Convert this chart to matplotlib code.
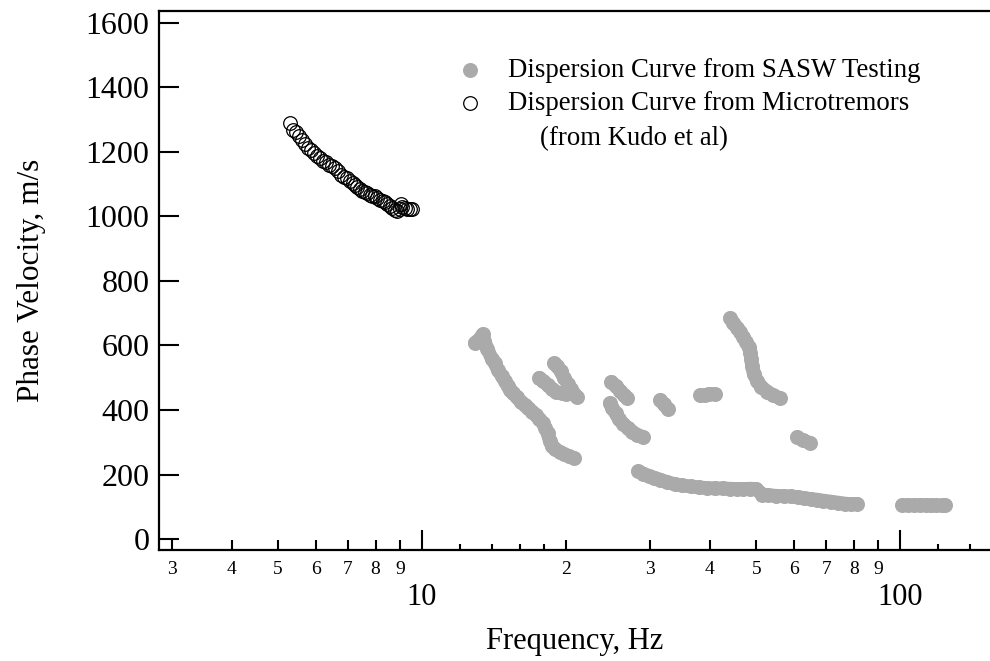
import matplotlib
matplotlib.use("Agg")
import matplotlib.pyplot as plt
from matplotlib.ticker import FixedLocator, FixedFormatter, NullFormatter

plt.rcParams['font.family'] = ['Liberation Serif', 'DejaVu Serif']

# SASW dispersion branches: (frequency Hz, phase velocity m/s)
branch_a_f = [12.9, 13.2, 13.4, 13.5, 13.7, 14.0, 14.2, 14.4, 14.7, 14.9, 15.1, 15.3, 15.5,
              15.8, 16.1, 16.4, 16.7, 17.0, 17.3, 17.6, 17.9, 18.1, 18.3, 18.5, 18.7,
              19.0, 19.4, 19.8, 20.3, 20.8]
branch_a_v = [608, 620, 635, 615, 590, 558, 545, 525, 505, 490, 475, 462, 452,
              440, 425, 415, 405, 395, 385, 372, 360, 345, 328, 305, 288,
              278, 270, 263, 256, 250]
branch_b1_f = [17.6, 17.9, 18.3, 18.7, 19.1, 19.6, 20.0]
branch_b1_v = [500, 490, 478, 465, 455, 452, 450]
branch_b2_f = [18.9, 19.2, 19.5, 19.8, 20.2, 20.5, 20.8, 21.1]
branch_b2_v = [545, 535, 520, 500, 480, 465, 450, 440]
branch_c1_f = [24.9, 25.4, 25.9, 26.4, 26.8]
branch_c1_v = [487, 475, 460, 447, 437]
branch_c2_f = [24.7, 25.0, 25.4, 25.8, 26.3, 26.9, 27.5, 28.2, 29.0]
branch_c2_v = [421, 405, 390, 372, 358, 345, 333, 323, 316]
branch_d_f = [31.5, 32.0, 32.7]
branch_d_v = [431, 418, 402]
branch_e_f = [38.2, 39.0, 39.8, 41.0]
branch_e_v = [446, 445, 450, 449]
branch_f_f = [44.1, 44.8, 45.6, 46.3, 47.0, 47.6, 48.2, 48.6, 48.8, 49.0, 49.4, 50.2,
              51.2, 52.7, 54.3, 56.1]
branch_f_v = [685, 670, 655, 642, 625, 610, 595, 578, 558, 535, 512, 490,
              472, 457, 445, 437]
branch_g_f = [60.9, 62.5, 64.8]
branch_g_v = [316, 306, 298]
branch_h_f = [28.3, 29.0, 29.8, 30.6, 31.5, 32.6, 33.8, 35.0, 36.5, 38.0, 39.5, 41.0,
              42.5, 44.0, 45.5, 47.0, 48.5, 50.0, 51.5, 53.0, 55.0, 57.0, 59.0, 61.0,
              63.0, 65.0, 67.0, 69.0, 71.5, 74.0, 76.5, 79.0, 81.3]
branch_h_v = [210, 203, 196, 190, 184, 176, 170, 166, 163, 160, 158, 157,
              157, 156, 155, 155, 156, 155, 138, 136, 134, 133, 132, 130,
              127, 124, 122, 119, 116, 113, 110, 108, 109]
branch_i_f = [101, 104, 107, 110, 113, 116, 119, 122, 124]
branch_i_v = [105, 105, 105, 105, 105, 104, 104, 104, 104]

sasw_branches = [
    (branch_a_f, branch_a_v), (branch_b1_f, branch_b1_v), (branch_b2_f, branch_b2_v),
    (branch_c1_f, branch_c1_v), (branch_c2_f, branch_c2_v), (branch_d_f, branch_d_v),
    (branch_e_f, branch_e_v), (branch_f_f, branch_f_v), (branch_g_f, branch_g_v),
    (branch_h_f, branch_h_v), (branch_i_f, branch_i_v),
]

# Dispersion curve from microtremors (Kudo et al)
micro_freq = [
    5.30, 5.37, 5.45, 5.53, 5.61, 5.69, 5.77, 5.86, 5.94, 6.03, 6.12, 6.21, 6.30,
    6.39, 6.48, 6.58, 6.67, 6.77, 6.87, 6.97, 7.07, 7.16, 7.24, 7.33, 7.42, 7.51,
    7.60, 7.69, 7.78, 7.88, 7.97, 8.07, 8.17, 8.27, 8.37, 8.47, 8.57, 8.67, 8.78,
    8.88, 8.99, 9.05, 9.10, 9.21, 9.32, 9.44, 9.55,
]
micro_vel = [
    1290, 1268, 1262, 1250, 1238, 1225, 1212, 1205, 1196, 1188, 1180, 1172, 1168,
    1160, 1156, 1150, 1140, 1130, 1122, 1118, 1110, 1104, 1098, 1092, 1085, 1080,
    1075, 1072, 1068, 1065, 1062, 1058, 1052, 1048, 1044, 1040, 1032, 1026, 1020,
    1018, 1022, 1040, 1028, 1025, 1022, 1023, 1022,
]

y_ticks = [0, 200, 400, 600, 800, 1000, 1200, 1400, 1600]
x_major = [10, 100]
x_minor = [3, 4, 5, 6, 7, 8, 9, 20, 30, 40, 50, 60, 70, 80, 90]
x_minor_labels = ['3', '4', '5', '6', '7', '8', '9', '2', '3', '4', '5', '6', '7', '8', '9']
x_fine = [12, 14, 16, 18, 120, 140]

GRAY = '#aaaaaa'
DOT = 10.8       # gray dot diameter (pt)
RING = 9.8       # open circle diameter (pt)

fig = plt.figure(figsize=(9.9, 6.61), dpi=100)
W, H = 990, 661
ax = fig.add_axes([159 / W, (H - 550) / H, (990 - 159) / W, (550 - 11) / H])

for bf, bv in sasw_branches:
    ax.plot(bf, bv, color=GRAY, linewidth=DOT * 0.92, solid_capstyle='round',
            solid_joinstyle='round', zorder=2)
    ax.plot(bf, bv, linestyle='none', marker='o', markersize=DOT,
            markerfacecolor=GRAY, markeredgecolor='none', zorder=2)

ax.plot(micro_freq, micro_vel, linestyle='none', marker='o', markersize=RING,
        markerfacecolor='none', markeredgecolor='black', markeredgewidth=0.9, zorder=3)

ax.set_xscale('log')
ax.set_xlim(2.82, 154)
ax.set_ylim(-34, 1637)

for side in ('top', 'left', 'bottom'):
    ax.spines[side].set_linewidth(1.6)
ax.spines['right'].set_visible(False)

ax.yaxis.set_major_locator(FixedLocator(y_ticks))
ax.yaxis.set_minor_locator(FixedLocator([]))
ax.set_yticklabels([str(v) for v in y_ticks])
ax.tick_params(axis='y', which='major', direction='in', length=14.5, width=1.5,
               labelsize=23, pad=7, right=False)

ax.xaxis.set_major_locator(FixedLocator(x_major))
ax.xaxis.set_major_formatter(FixedFormatter(['10', '100']))
ax.xaxis.set_minor_locator(FixedLocator(x_minor))
ax.xaxis.set_minor_formatter(FixedFormatter(x_minor_labels))
ax.tick_params(axis='x', which='major', direction='in', length=14.5, width=1.5,
               labelsize=22, pad=24, top=False)
ax.tick_params(axis='x', which='minor', direction='in', length=7.5, width=1.5,
               labelsize=14, pad=8, top=False)

# short intermediate ticks
sec = ax.secondary_xaxis('bottom')
sec.set_xscale('log')
sec.xaxis.set_major_locator(FixedLocator(x_fine))
sec.xaxis.set_minor_locator(FixedLocator([]))
sec.xaxis.set_major_formatter(NullFormatter())
sec.xaxis.set_minor_formatter(NullFormatter())
sec.tick_params(axis='x', which='major', direction='in', length=4.5, width=1.5)
sec.spines['bottom'].set_visible(False)

ax.set_xlabel('Frequency, Hz', fontsize=22, va='baseline')
ax.xaxis.set_label_coords(0.5, -0.183)
ax.set_ylabel('Phase Velocity, m/s', fontsize=22.5)
ax.yaxis.set_label_coords(-0.136, 0.5)

# legend
ax.plot([0.374], [0.8905], transform=ax.transAxes, marker='o', markersize=DOT,
        markerfacecolor=GRAY, markeredgecolor='none', linestyle='none', clip_on=False)
ax.plot([0.374], [0.829], transform=ax.transAxes, marker='o', markersize=RING,
        markerfacecolor='none', markeredgecolor='black', markeredgewidth=0.9,
        linestyle='none', clip_on=False)
ax.text(0.420, 0.8776, 'Dispersion Curve from SASW Testing', transform=ax.transAxes,
        fontsize=19.3, va='baseline', ha='left')
ax.text(0.420, 0.816, 'Dispersion Curve from Microtremors', transform=ax.transAxes,
        fontsize=19.3, va='baseline', ha='left')
ax.text(0.4585, 0.7514, '(from Kudo et al)', transform=ax.transAxes,
        fontsize=19.3, va='baseline', ha='left')

fig.savefig('out.png', dpi=100)
